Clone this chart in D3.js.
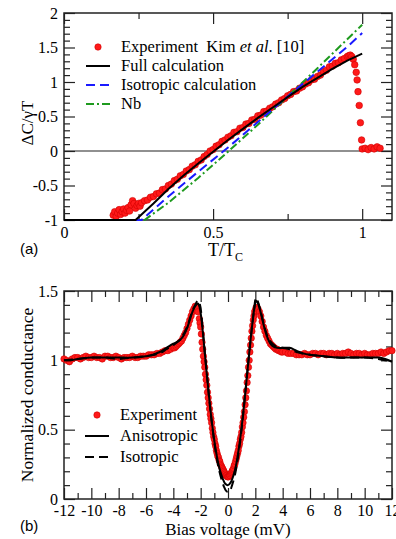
<!DOCTYPE html>
<html>
<head>
<meta charset="utf-8">
<script src="https://cdn.jsdelivr.net/npm/d3@7"></script>
<style>
body { margin: 0; background: #fff; }
svg text { font-family: "Liberation Serif", "DejaVu Serif", serif; fill: #000; }
.tick text { font-size: 16px; }
.tick line { stroke: #222; stroke-width: 1.2; }
.domain { display: none; }
</style>
</head>
<body>
<svg id="fig" width="396" height="539" font-family="Liberation Serif, serif"></svg>
<script>
// ---- panel (a): specific heat jump vs T/Tc ----
var fullT = [0, 0.24, 0.3, 0.35, 0.4, 0.45, 0.5, 0.55, 0.6, 0.65, 0.7, 0.75, 0.8, 0.85, 0.9, 0.95, 1.0];
var fullC = [-1, -1, -0.76, -0.55, -0.36, -0.18, -0.01, 0.16, 0.32, 0.48, 0.63, 0.78, 0.93, 1.06, 1.19, 1.31, 1.41];
var isoT = [0, 0.26, 0.35, 0.45, 0.55, 0.65, 0.75, 0.85, 0.95, 1.0];
var isoC = [-1, -1, -0.66, -0.3, 0.05, 0.42, 0.79, 1.15, 1.51, 1.71];
var nbT = [0, 0.27, 0.35, 0.45, 0.55, 0.65, 0.75, 0.85, 0.95, 1.0];
var nbC = [-1, -1, -0.75, -0.39, -0.01, 0.38, 0.79, 1.2, 1.62, 1.83];
var kimT = [0.165, 0.17, 0.175, 0.18, 0.185, 0.19, 0.195, 0.2, 0.205, 0.21, 0.215, 0.22, 0.225, 0.23, 0.235, 0.24, 0.245, 0.25, 0.255, 0.26,
  0.27, 0.28, 0.29, 0.3, 0.31, 0.32, 0.33, 0.34, 0.35, 0.36, 0.37, 0.38, 0.39, 0.4, 0.41, 0.42, 0.43, 0.44, 0.45, 0.46, 0.47, 0.48, 0.49,
  0.5, 0.51, 0.52, 0.53, 0.54, 0.55, 0.56, 0.57, 0.58, 0.59, 0.6, 0.61, 0.62, 0.63, 0.64, 0.65, 0.66, 0.67, 0.68, 0.69, 0.7, 0.71, 0.72,
  0.73, 0.74, 0.75, 0.76, 0.77, 0.78, 0.79, 0.8, 0.81, 0.82, 0.83, 0.84, 0.85, 0.86, 0.87, 0.88, 0.89, 0.9, 0.91, 0.92, 0.93, 0.94, 0.95,
  0.955, 0.96, 0.965, 0.97, 0.975, 0.98, 0.983, 0.986, 0.99, 0.994, 0.998, 1.0, 1.01, 1.02, 1.03, 1.04, 1.05, 1.06];
var kimC = [-0.93, -0.88, -0.95, -0.9, -0.85, -0.92, -0.88, -0.84, -0.9, -0.86, -0.82, -0.87, -0.78, -0.72, -0.76, -0.83, -0.79, -0.76, -0.8, -0.75,
  -0.72, -0.71, -0.67, -0.66, -0.62, -0.61, -0.56, -0.55, -0.5, -0.48, -0.43, -0.41, -0.36, -0.34, -0.29, -0.27, -0.22, -0.2, -0.15, -0.13, -0.08, -0.05, 0.0,
  0.02, 0.07, 0.09, 0.14, 0.16, 0.2, 0.22, 0.27, 0.28, 0.33, 0.34, 0.39, 0.4, 0.45, 0.46, 0.51, 0.52, 0.57, 0.58, 0.62, 0.64, 0.68, 0.7,
  0.74, 0.76, 0.8, 0.82, 0.86, 0.87, 0.91, 0.93, 0.97, 0.99, 1.03, 1.04, 1.08, 1.1, 1.15, 1.17, 1.22, 1.23, 1.27, 1.28, 1.32, 1.34, 1.37,
  1.38, 1.39, 1.37, 1.33, 1.25, 1.14, 1.03, 0.86, 0.66, 0.41, 0.16, 0.03, 0.04, 0.02, 0.05, 0.03, 0.06, 0.04];

// ---- panel (b): normalized conductance vs bias ----
var anisoV = [-12, -11.5, -11, -10, -9, -8, -7, -6, -5.5, -5, -4.5, -4, -3.6, -3.3, -3.0, -2.8, -2.6, -2.4, -2.2, -2.1, -2.0, -1.9, -1.8,
  -1.6, -1.4, -1.2, -1.0, -0.8, -0.6, -0.4, -0.2, 0, 0.2, 0.4, 0.6, 0.8, 1.0, 1.2, 1.4, 1.6, 1.8, 1.95, 2.05, 2.2, 2.3, 2.5, 2.7, 2.9,
  3.1, 3.3, 3.6, 4.0, 4.5, 5.0, 5.5, 6, 7, 8, 9, 10, 11, 11.5, 12];
var anisoG = [1.0, 1.0, 1.01, 1.02, 1.02, 1.02, 1.02, 1.03, 1.04, 1.06, 1.09, 1.12, 1.14, 1.17, 1.23, 1.29, 1.35, 1.39, 1.41, 1.39, 1.34, 1.26, 1.16,
  0.95, 0.75, 0.57, 0.42, 0.3, 0.21, 0.15, 0.11, 0.1, 0.12, 0.17, 0.25, 0.37, 0.52, 0.7, 0.9, 1.1, 1.28, 1.39, 1.43, 1.41, 1.38, 1.3, 1.22, 1.16,
  1.12, 1.1, 1.09, 1.09, 1.09, 1.07, 1.05, 1.04, 1.03, 1.02, 1.02, 1.02, 1.02, 1.01, 0.99];
var isoV = [-12, -11, -10, -9, -8, -7, -6, -5, -4.5, -4, -3.5, -3.0, -2.7, -2.4, -2.2, -2.05, -1.9, -1.7, -1.5, -1.3, -1.1, -0.9, -0.7,
  -0.5, -0.3, -0.15, 0, 0.15, 0.3, 0.5, 0.7, 0.9, 1.1, 1.3, 1.5, 1.7, 1.9, 2.05, 2.2, 2.4, 2.7, 3.0, 3.5, 4.0, 4.5, 5, 6, 7, 8, 9, 10, 11, 12];
var isoG = [1.0, 1.01, 1.02, 1.02, 1.01, 1.02, 1.03, 1.05, 1.08, 1.11, 1.15, 1.24, 1.33, 1.4, 1.43, 1.4, 1.28, 1.06, 0.85, 0.65, 0.48, 0.34, 0.23,
  0.15, 0.09, 0.06, 0.05, 0.06, 0.1, 0.17, 0.28, 0.42, 0.6, 0.8, 1.0, 1.19, 1.36, 1.45, 1.42, 1.35, 1.23, 1.15, 1.1, 1.09, 1.08, 1.06, 1.04, 1.03, 1.02, 1.02, 1.02, 1.01, 0.99];
var expV = [-12, -11.8, -11.6, -11.4, -11.2, -11, -10.8, -10.6, -10.4, -10.2, -10, -9.8, -9.6, -9.4, -9.2, -9, -8.8, -8.6, -8.4, -8.2,
  -8, -7.8, -7.6, -7.4, -7.2, -7, -6.8, -6.6, -6.4, -6.2, -6, -5.8, -5.6, -5.4, -5.2, -5, -4.8, -4.6, -4.4, -4.2,
  -4, -3.9, -3.8, -3.7, -3.6, -3.5, -3.4, -3.3, -3.2, -3.1, -3.0, -2.9, -2.8, -2.7, -2.6, -2.5, -2.4, -2.3, -2.2, -2.1,
  -2.05, -2.0, -1.95, -1.9, -1.85, -1.8, -1.75, -1.7, -1.65, -1.6, -1.55, -1.5, -1.45, -1.4, -1.35, -1.3, -1.25, -1.2, -1.15, -1.1, -1.05,
  -1.0, -0.95, -0.9, -0.85, -0.8, -0.75, -0.7, -0.65, -0.6, -0.55, -0.5, -0.45, -0.4, -0.35, -0.3, -0.25, -0.2, -0.15, -0.1, -0.05, 0,
  0.05, 0.1, 0.15, 0.2, 0.25, 0.3, 0.35, 0.4, 0.45, 0.5, 0.55, 0.6, 0.65, 0.7, 0.75, 0.8, 0.85, 0.9, 0.95, 1.0,
  1.05, 1.1, 1.15, 1.2, 1.25, 1.3, 1.35, 1.4, 1.45, 1.5, 1.55, 1.6, 1.65, 1.7, 1.75, 1.8, 1.85, 1.9, 1.95, 2.0, 2.05,
  2.1, 2.2, 2.3, 2.4, 2.5, 2.6, 2.7, 2.8, 2.9, 3.0, 3.1, 3.2, 3.3, 3.4, 3.5, 3.6, 3.7, 3.8, 3.9, 4.0,
  4.2, 4.4, 4.6, 4.8, 5, 5.2, 5.4, 5.6, 5.8, 6, 6.2, 6.4, 6.6, 6.8, 7, 7.2, 7.4, 7.6, 7.8, 8,
  8.2, 8.4, 8.6, 8.8, 9, 9.2, 9.4, 9.6, 9.8, 10, 10.2, 10.4, 10.6, 10.8, 11, 11.2, 11.4, 11.6, 11.8, 12];
var expG = [1.01, 1.0, 0.99, 1.01, 1.02, 1.02, 1.01, 1.02, 1.03, 1.02, 1.02, 1.03, 1.02, 1.02, 1.01, 1.03, 1.03, 1.02, 1.02, 1.03,
  1.02, 1.01, 1.02, 1.02, 1.02, 1.03, 1.02, 1.02, 1.03, 1.03, 1.03, 1.04, 1.04, 1.04, 1.05, 1.05, 1.06, 1.07, 1.07, 1.08,
  1.09, 1.09, 1.1, 1.11, 1.12, 1.13, 1.14, 1.16, 1.18, 1.2, 1.23, 1.26, 1.29, 1.32, 1.35, 1.37, 1.39, 1.38, 1.35, 1.3,
  1.27, 1.24, 1.19, 1.13, 1.08, 1.03, 0.99, 0.95, 0.9, 0.86, 0.82, 0.77, 0.73, 0.69, 0.65, 0.61, 0.58, 0.55, 0.51, 0.48, 0.45,
  0.43, 0.4, 0.38, 0.35, 0.33, 0.31, 0.3, 0.28, 0.27, 0.25, 0.24, 0.23, 0.22, 0.21, 0.2, 0.19, 0.18, 0.17, 0.17, 0.16, 0.16,
  0.16, 0.17, 0.17, 0.18, 0.19, 0.2, 0.21, 0.22, 0.24, 0.25, 0.27, 0.29, 0.31, 0.33, 0.35, 0.38, 0.4, 0.43, 0.45, 0.48,
  0.52, 0.55, 0.59, 0.63, 0.68, 0.73, 0.78, 0.84, 0.89, 0.95, 1.0, 1.06, 1.11, 1.16, 1.21, 1.25, 1.29, 1.32, 1.35, 1.36, 1.38,
  1.38, 1.37, 1.35, 1.32, 1.28, 1.24, 1.21, 1.18, 1.16, 1.14, 1.12, 1.11, 1.1, 1.09, 1.08, 1.08, 1.07, 1.07, 1.06, 1.06,
  1.06, 1.05, 1.05, 1.05, 1.04, 1.04, 1.04, 1.05, 1.04, 1.04, 1.05, 1.05, 1.04, 1.05, 1.05, 1.04, 1.05, 1.05, 1.04, 1.05,
  1.04, 1.05, 1.05, 1.06, 1.05, 1.04, 1.05, 1.05, 1.04, 1.05, 1.04, 1.04, 1.05, 1.05, 1.05, 1.06, 1.05, 1.06, 1.07, 1.07];

var RED = "#ff1a1a", BLUE = "#1a1aff", GREEN = "#1e9a1e";
var SERIF = "'Liberation Serif', 'DejaVu Serif', serif";

var svg = d3.select("#fig");

function zip(xs, ys) { return xs.map(function(v, i) { return [v, ys[i]]; }); }

// ticks pointing inward on all four sides, labels only left + bottom
function drawFrame(g, x, y, w, h, opt) {
    var fmt = function(d) { return String(d); };
    g.append("g").attr("transform", "translate(0," + h + ")")
        .call(d3.axisBottom(x).tickValues(opt.xMajor).tickSize(-11).tickSizeOuter(0).tickPadding(opt.xPad).tickFormat(fmt));
    g.append("g").attr("transform", "translate(0," + h + ")")
        .call(d3.axisBottom(x).tickValues(opt.xMinor).tickSize(-6).tickSizeOuter(0).tickFormat(""));
    g.append("g")
        .call(d3.axisTop(x).tickValues(opt.xMajor).tickSize(-11).tickSizeOuter(0).tickFormat(""));
    g.append("g")
        .call(d3.axisTop(x).tickValues(opt.xMinor).tickSize(-6).tickSizeOuter(0).tickFormat(""));
    g.append("g")
        .call(d3.axisLeft(y).tickValues(opt.yMajor).tickSize(-11).tickSizeOuter(0).tickPadding(6).tickFormat(fmt));
    g.append("g")
        .call(d3.axisLeft(y).tickValues(opt.yMinor).tickSize(-6).tickSizeOuter(0).tickFormat(""));
    g.append("g").attr("transform", "translate(" + w + ",0)")
        .call(d3.axisRight(y).tickValues(opt.yMajor).tickSize(-11).tickSizeOuter(0).tickFormat(""));
    g.append("g").attr("transform", "translate(" + w + ",0)")
        .call(d3.axisRight(y).tickValues(opt.yMinor).tickSize(-6).tickSizeOuter(0).tickFormat(""));
    g.selectAll(".tick text").attr("font-family", SERIF).style("font-family", SERIF);
    g.append("rect").attr("width", w).attr("height", h)
        .attr("fill", "none").attr("stroke", "#222").attr("stroke-width", 1.5);
}

function legendRow(g, x0, yy, label, style) {
    if (style.dot) {
        g.append("circle").attr("cx", x0 + 12).attr("cy", yy).attr("r", 3.2)
            .attr("fill", RED).attr("stroke", "#d00000").attr("stroke-width", 0.6);
    } else {
        g.append("line").attr("x1", x0).attr("x2", x0 + 24).attr("y1", yy).attr("y2", yy)
            .attr("stroke", style.color).attr("stroke-width", 2)
            .attr("stroke-dasharray", style.dash || null);
    }
    var t = g.append("text").attr("x", x0 + 35).attr("y", yy + 5)
        .style("font-family", SERIF).style("font-size", "16.5px").attr("xml:space", "preserve");
    label.forEach(function(p) {
        t.append("tspan").text(p[0]).style("font-style", p[1] ? "italic" : null);
    });
}

// ===== panel (a) =====
var aW = 328, aH = 207;
var ga = svg.append("g").attr("transform", "translate(64,13)");
var xa = d3.scaleLinear().domain([0, 1.1]).range([0, aW]);
var ya = d3.scaleLinear().domain([-1, 2]).range([aH, 0]);

drawFrame(ga, xa, ya, aW, aH, {
    xMajor: [0, 0.5, 1], xMinor: [0.25, 0.75], xPad: 7,
    yMajor: [-1, -0.5, 0, 0.5, 1, 1.5, 2],
    yMinor: d3.range(-9, 20).filter(function(k) { return k % 5 !== 0; }).map(function(k) { return k / 10; })
});

ga.append("line").attr("x1", 0).attr("x2", aW).attr("y1", ya(0)).attr("y2", ya(0))
    .attr("stroke", "#222").attr("stroke-width", 1.2);

var lineA = d3.line().x(function(d) { return xa(d[0]); }).y(function(d) { return ya(d[1]); });

ga.append("g").selectAll("circle").data(zip(kimT, kimC)).enter().append("circle")
    .attr("cx", function(d) { return xa(d[0]); })
    .attr("cy", function(d) { return ya(d[1]); })
    .attr("r", 3.3).attr("fill", RED).attr("stroke", "#d00000").attr("stroke-width", 0.6);

ga.append("path").datum(zip(nbT, nbC)).attr("d", lineA).attr("fill", "none")
    .attr("stroke", GREEN).attr("stroke-width", 2).attr("stroke-dasharray", "8,3,2,3");
ga.append("path").datum(zip(isoT, isoC)).attr("d", lineA).attr("fill", "none")
    .attr("stroke", BLUE).attr("stroke-width", 2).attr("stroke-dasharray", "9,5");
ga.append("path").datum(zip(fullT, fullC)).attr("d", lineA).attr("fill", "none")
    .attr("stroke", "#000").attr("stroke-width", 2);

var lga = svg.append("g");
legendRow(lga, 86, 47, [["Experiment  Kim ", false], ["et al", true], [". [10]", false]], { dot: true });
legendRow(lga, 86, 66, [["Full calculation", false]], { color: "#000" });
legendRow(lga, 86, 85, [["Isotropic calculation", false]], { color: BLUE, dash: "9,5" });
legendRow(lga, 86, 104, [["Nb", false]], { color: GREEN, dash: "8,3,2,3" });

svg.append("text").attr("transform", "translate(33,123) rotate(-90)")
    .attr("text-anchor", "middle").style("font-family", SERIF).style("font-size", "17px").text("ΔC/γT");
var tl = svg.append("text").attr("x", 208).attr("y", 256).style("font-family", SERIF).style("font-size", "18px");
tl.append("tspan").text("T/T");
tl.append("tspan").attr("dy", 5).style("font-size", "12px").text("C");
svg.append("text").attr("x", 20).attr("y", 254)
    .style("font-family", "'Liberation Sans', Arial, sans-serif").style("font-size", "15px").text("(a)");

// ===== panel (b) =====
var bW = 328, bH = 208;
var gb = svg.append("g").attr("transform", "translate(64,291)");
var xb = d3.scaleLinear().domain([-12, 12]).range([0, bW]);
var yb = d3.scaleLinear().domain([0, 1.5]).range([bH, 0]);

drawFrame(gb, xb, yb, bW, bH, {
    xMajor: d3.range(-12, 13, 2), xMinor: d3.range(-11, 12, 2), xPad: 6,
    yMajor: [0, 0.5, 1, 1.5],
    yMinor: d3.range(1, 15).filter(function(k) { return k % 5 !== 0; }).map(function(k) { return k / 10; })
});

var lineB = d3.line().curve(d3.curveCatmullRom.alpha(0.5))
    .x(function(d) { return xb(d[0]); }).y(function(d) { return yb(d[1]); });

gb.append("g").selectAll("circle").data(zip(expV, expG)).enter().append("circle")
    .attr("cx", function(d) { return xb(d[0]); })
    .attr("cy", function(d) { return yb(d[1]); })
    .attr("r", 3.2).attr("fill", RED).attr("stroke", "#d00000").attr("stroke-width", 0.6);

gb.append("path").datum(zip(isoV, isoG)).attr("d", lineB).attr("fill", "none")
    .attr("stroke", "#000").attr("stroke-width", 2).attr("stroke-dasharray", "9,5");
gb.append("path").datum(zip(anisoV, anisoG)).attr("d", lineB).attr("fill", "none")
    .attr("stroke", "#000").attr("stroke-width", 2);

var lgb = svg.append("g");
legendRow(lgb, 85, 415, [["Experiment", false]], { dot: true });
legendRow(lgb, 85, 436, [["Anisotropic", false]], { color: "#000" });
legendRow(lgb, 85, 457, [["Isotropic", false]], { color: "#000", dash: "9,5" });

svg.append("text").attr("transform", "translate(33,395) rotate(-90)")
    .attr("text-anchor", "middle").style("font-family", SERIF).style("font-size", "17.5px").text("Normalized conductance");
svg.append("text").attr("x", 228).attr("y", 535).attr("text-anchor", "middle")
    .style("font-family", SERIF).style("font-size", "17px").text("Bias voltage (mV)");
svg.append("text").attr("x", 20).attr("y", 531)
    .style("font-family", "'Liberation Sans', Arial, sans-serif").style("font-size", "15px").text("(b)");
</script>
</body>
</html>
